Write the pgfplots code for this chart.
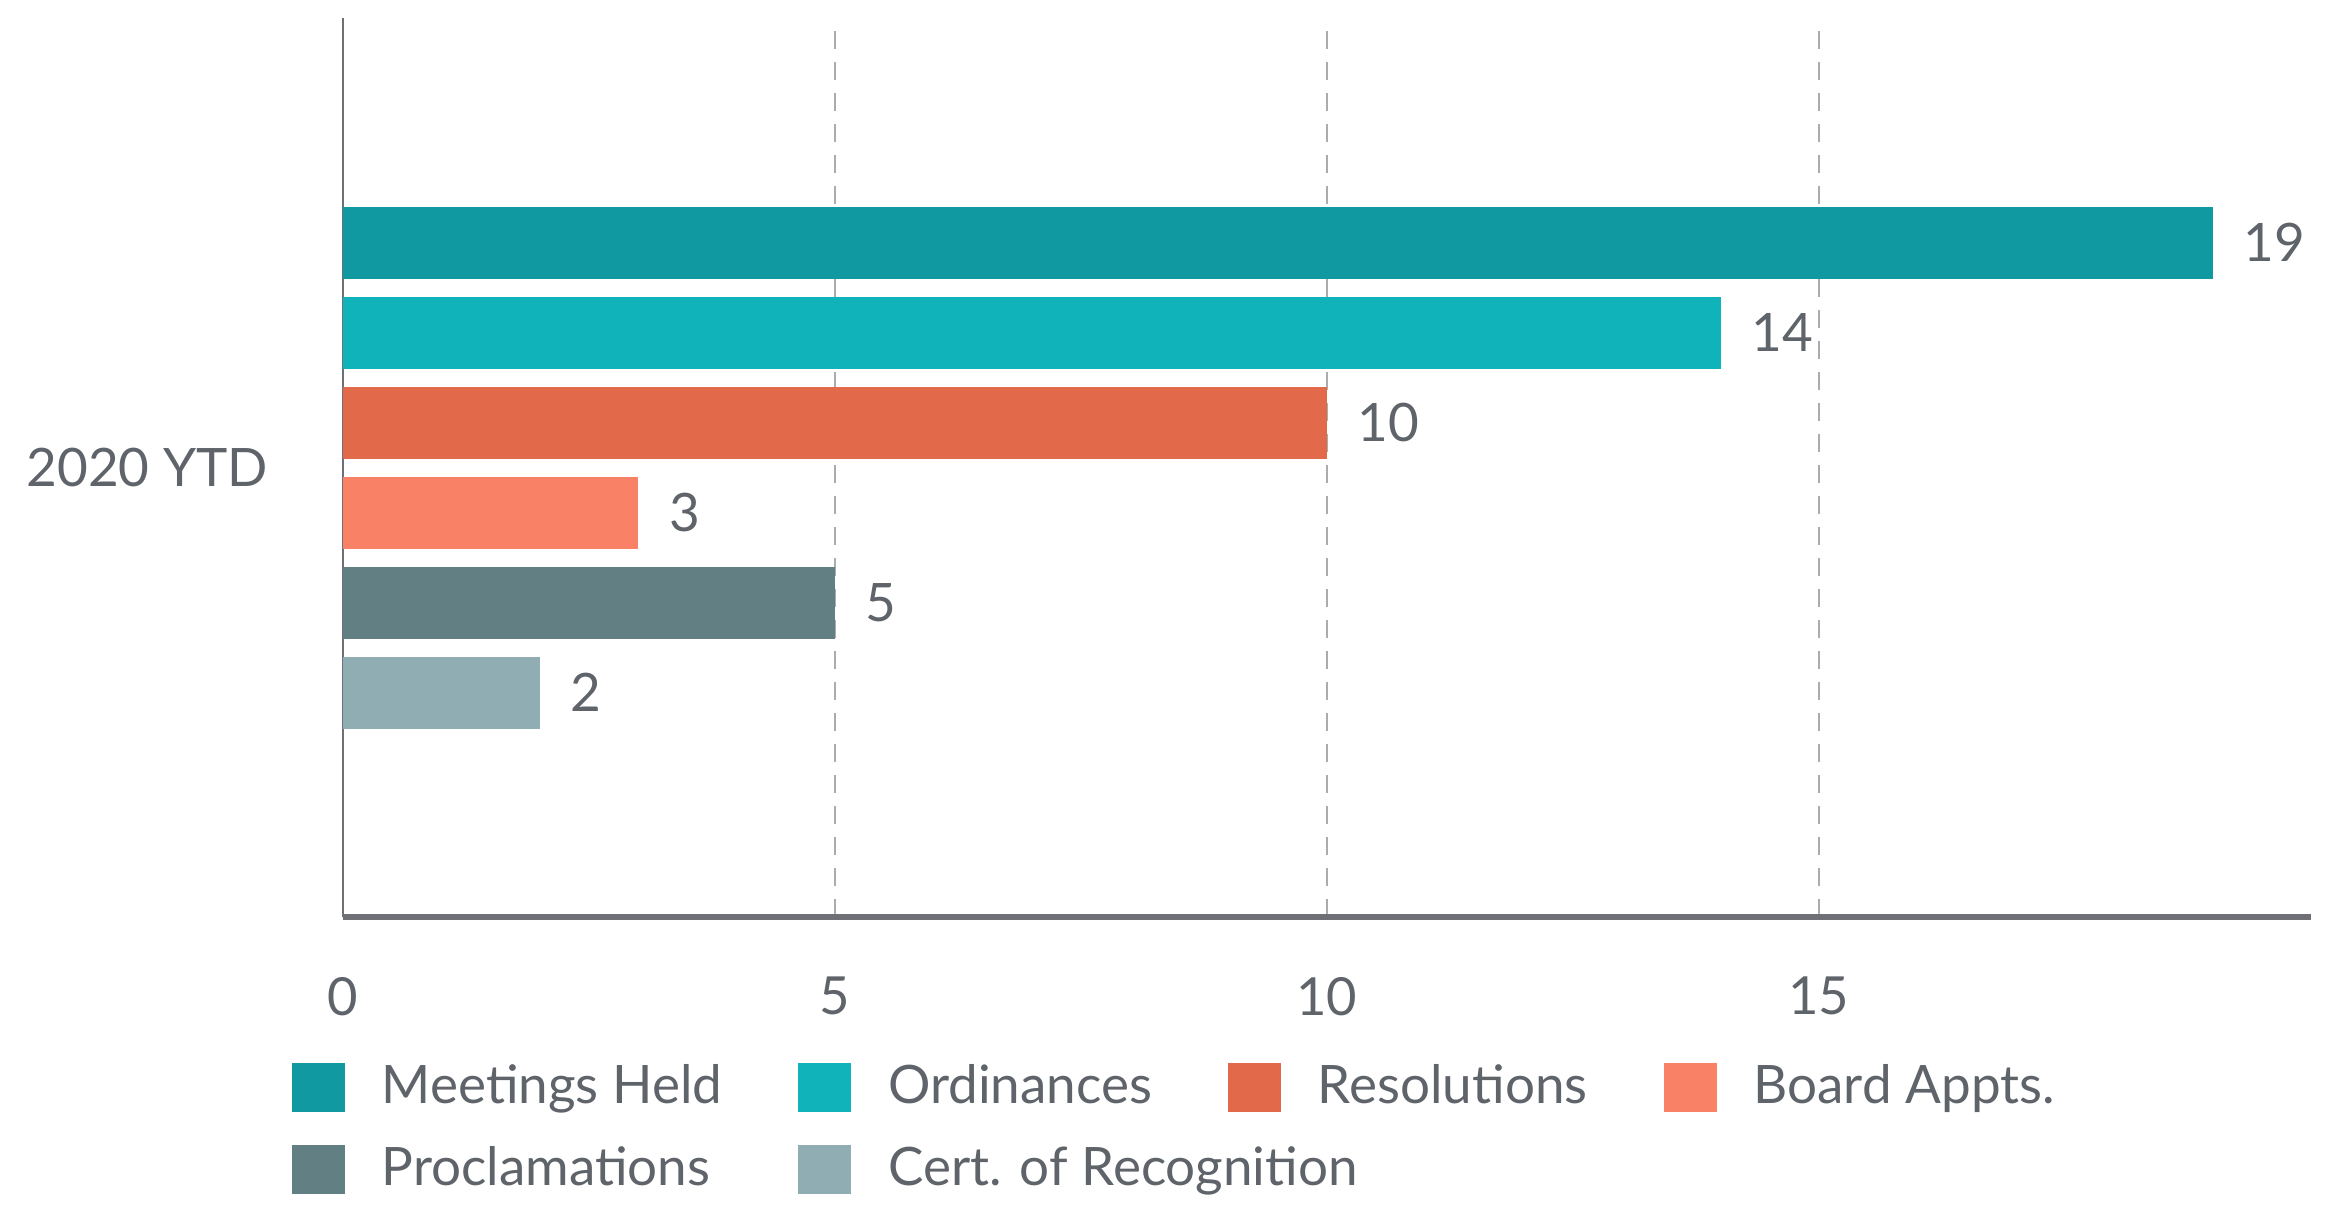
\documentclass[border=0pt]{standalone}
\usepackage{pgfplots}
\pgfplotsset{compat=1.18}
\usepackage{fontspec}
\setmainfont{Lato}
\definecolor{txt}{RGB}{95,99,106}
\definecolor{axgray}{RGB}{110,112,118}
\definecolor{gridgray}{RGB}{170,172,176}
\definecolor{cMeet}{RGB}{16,153,160}
\definecolor{cOrd}{RGB}{17,179,186}
\definecolor{cRes}{RGB}{226,105,74}
\definecolor{cBoard}{RGB}{249,130,102}
\definecolor{cProc}{RGB}{98,127,132}
\definecolor{cCert}{RGB}{144,173,179}
\begin{document}
\begin{tikzpicture}
\begin{axis}[
  at={(0,0)}, anchor=south west,
  scale only axis,
  width=393.6pt, height=179.8pt,
  xbar, bar width=14.4pt,
  xmin=0, xmax=20, ymin=-0.5, ymax=0.5,
  xtick={0,5,10,15},
  ytick={0}, yticklabels={2020 YTD},
  major tick length=0pt,
  axis x line*=bottom, axis y line*=left,
  x axis line style={axgray, line width=1.2pt, -},
  y axis line style={axgray, line width=0.5pt, -},
  xmajorgrids,
  grid style={gridgray, line width=0.5pt, dash pattern=on 3.6pt off 2.6pt},
  /pgf/number format/assume math mode=true,
  tick label style={text=txt},
  xticklabel style={font=\fontsize{10.5}{12}\selectfont, yshift=-8.5pt},
  yticklabel style={font=\fontsize{10.6}{12}\selectfont, xshift=-11.5pt},
  nodes near coords,
  every node near coord/.append style={font=\fontsize{10.6}{12}\selectfont, text=txt, anchor=west, inner sep=0pt, xshift=6pt},
  legend columns=4,
  legend cell align=left,
  legend image code/.code={\fill[#1,draw=none] (0pt,-4.9pt) rectangle (10.6pt,4.9pt); \path[draw=none,fill=none] (0pt,0pt) -- (16pt,0pt);},
  legend style={at={(-0.0265,-0.152)}, anchor=north west, draw=none, fill=none, inner sep=0pt,
    font=\fontsize{10.6}{12}\selectfont, text=txt, row sep=3pt,
    /tikz/every even column/.append style={column sep=13.2pt}},
]
\addplot[fill=cMeet, draw=none, bar shift=45pt] coordinates {(19,0)};
\addlegendentry{Meetings Held}
\addplot[fill=cOrd, draw=none, bar shift=27pt] coordinates {(14,0)};
\addlegendentry{Ordinances}
\addplot[fill=cRes, draw=none, bar shift=9pt] coordinates {(10,0)};
\addlegendentry{Resolutions}
\addplot[fill=cBoard, draw=none, bar shift=-9pt] coordinates {(3,0)};
\addlegendentry{Board Appts.}
\addplot[fill=cProc, draw=none, bar shift=-27pt] coordinates {(5,0)};
\addlegendentry{Proclamations}
\addplot[fill=cCert, draw=none, bar shift=-45pt] coordinates {(2,0)};
\addlegendentry{\makebox[0pt][l]{Cert. of Recognition}}
\end{axis}
\pgfresetboundingbox
\useasboundingbox (-68.6pt,-58pt) rectangle (397.6pt,183.4pt);
\end{tikzpicture}
\end{document}
